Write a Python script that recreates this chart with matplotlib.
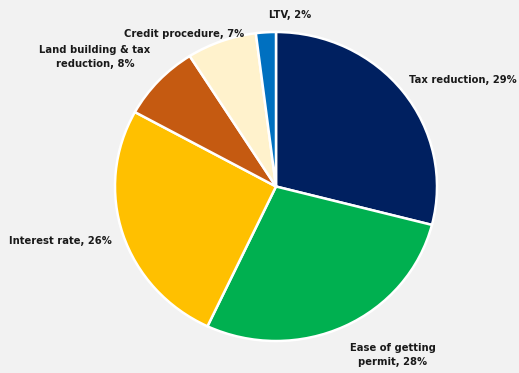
import matplotlib.pyplot as plt

labels = ["Tax reduction", "Ease of getting\npermit", "Interest rate",
          "Land building & tax\nreduction", "Credit procedure", "LTV"]
shares = [29, 28, 26, 8, 7, 2]
colors = ["#002060", "#00B050", "#FFC000", "#C55A11", "#FFF2CC", "#0070C0"]

# where each label sits, in pie units
label_pos = [(1.16, 0.689), (0.727, -1.09), (-1.342, -0.353),
             (-1.124, 0.835), (-0.571, 0.987), (0.087, 1.11)]

fig = plt.figure(figsize=(5.19, 3.73), dpi=100)
fig.patch.set_facecolor('#F2F2F2')
ax = fig.add_axes([115 / 519, 32 / 373, 322 / 519, 309 / 373])
ax.set_facecolor('#F2F2F2')

ax.pie(shares, colors=colors, startangle=90, counterclock=False, radius=1,
       wedgeprops=dict(edgecolor='white', linewidth=1.8))
ax.set_aspect('auto')
ax.set_xlim(-1, 1)
ax.set_ylim(-1, 1)

for lab, v, (x, y) in zip(labels, shares, label_pos):
    ax.text(x, y, f"{lab}, {v}%", ha='center', va='center', fontsize=8,
            fontweight='bold', fontstretch='condensed', family='DejaVu Sans',
            color='#1a1a1a', linespacing=1.5, clip_on=False)

ax.axis('off')
fig.savefig('out.png', dpi=100, facecolor=fig.get_facecolor())
